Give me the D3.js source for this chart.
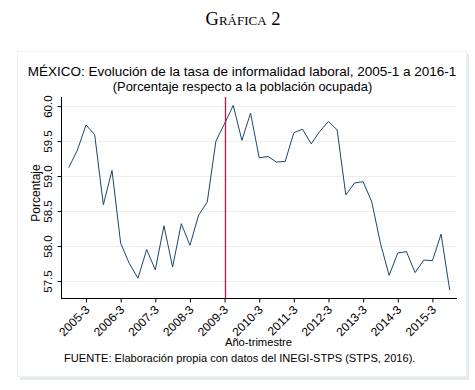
<!DOCTYPE html>
<html>
<head>
<meta charset="utf-8">
<script src="https://cdn.jsdelivr.net/npm/d3@7"></script>
<style>
  html, body { margin: 0; padding: 0; background: #ffffff; }
  svg { display: block; }
  text { font-family: "Liberation Sans", Arial, sans-serif; fill: #000; }
</style>
</head>
<body>
<svg id="chart" width="475" height="390"></svg>
<script>
// ---- Data ----
const quarters = [
  "2005-1","2005-2","2005-3","2005-4",
  "2006-1","2006-2","2006-3","2006-4",
  "2007-1","2007-2","2007-3","2007-4",
  "2008-1","2008-2","2008-3","2008-4",
  "2009-1","2009-2","2009-3","2009-4",
  "2010-1","2010-2","2010-3","2010-4",
  "2011-1","2011-2","2011-3","2011-4",
  "2012-1","2012-2","2012-3","2012-4",
  "2013-1","2013-2","2013-3","2013-4",
  "2014-1","2014-2","2014-3","2014-4",
  "2015-1","2015-2","2015-3","2015-4",
  "2016-1"
];
const informalidad = [
  59.12, 59.37, 59.73, 59.59,
  58.59, 59.08, 58.04, 57.75,
  57.54, 57.95, 57.66, 58.29,
  57.70, 58.32, 58.01, 58.44,
  58.63, 59.50, 59.75, 60.01,
  59.51, 59.90, 59.26, 59.28,
  59.20, 59.21, 59.62, 59.67,
  59.46, 59.64, 59.78, 59.66,
  58.73, 58.90, 58.92, 58.63,
  58.04, 57.58, 57.90, 57.92,
  57.62, 57.80, 57.79, 58.17,
  57.37
];
const xTickLabels = ["2005-3","2006-3","2007-3","2008-3","2009-3","2010-3","2011-3","2012-3","2013-3","2014-3","2015-3"];
const yTickValues = [57.5, 58.0, 58.5, 59.0, 59.5, 60.0];
const markerQuarter = "2009-3";

const headerText = "Gráfica 2";
const titleText = "MÉXICO: Evolución de la tasa de informalidad laboral, 2005-1 a 2016-1";
const subtitleText = "(Porcentaje respecto a la población ocupada)";
const yTitle = "Porcentaje";
const xTitle = "Año-trimestre";
const sourceText = "FUENTE: Elaboración propia con datos del INEGI-STPS (STPS, 2016).";

// ---- Layout ----
const svg = d3.select("#chart");
const plot = { left: 61, right: 457, top: 97, bottom: 298 };

const x = d3.scaleLinear().domain([-0.89, 44.84]).range([plot.left, plot.right]);
const y = d3.scaleLinear().domain([57.257, 60.13]).range([plot.bottom, plot.top]);
const qIndex = q => quarters.indexOf(q);

// header (small caps serif)
svg.append("text")
  .attr("x", 243).attr("y", 25)
  .attr("text-anchor", "middle")
  .style("font-family", "'Liberation Serif', 'DejaVu Serif', serif")
  .style("font-variant", "small-caps")
  .style("font-size", "18.5px")
  .attr("fill", "#111")
  .text(headerText);

// panel shadow + panel
svg.append("rect").attr("x", 20).attr("y", 54).attr("width", 449).attr("height", 326).attr("fill", "#e4ebf0");
svg.append("rect").attr("x", 17.5).attr("y", 51.5).attr("width", 449).attr("height", 325)
  .attr("fill", "#ffffff").attr("stroke", "#eef1f4").attr("stroke-width", 1);

// title
svg.append("text").attr("x", 242).attr("y", 76).attr("text-anchor", "middle")
  .style("font-size", "13.5px").text(titleText);
svg.append("text").attr("x", 242.5).attr("y", 91).attr("text-anchor", "middle")
  .style("font-size", "12.9px").text(subtitleText);

// gridlines
svg.append("g").selectAll("line").data(yTickValues).join("line")
  .attr("x1", plot.left).attr("x2", plot.right)
  .attr("y1", d => Math.round(y(d)) + 0.5).attr("y2", d => Math.round(y(d)) + 0.5)
  .attr("stroke", "#eaeff2").attr("stroke-width", 1);

// y axis
const yAxis = d3.axisLeft(y).tickValues(yTickValues).tickSize(4).tickFormat(d3.format(".1f"));
const gy = svg.append("g").attr("transform", `translate(${plot.left + 0.5},0)`).call(yAxis);
gy.select(".domain").attr("d", `M0,${plot.top}V${plot.bottom}`).attr("stroke", "#000");
gy.selectAll(".tick line").attr("stroke", "#000");
gy.selectAll(".tick text")
  .attr("x", null).attr("dy", null)
  .attr("text-anchor", "middle")
  .attr("transform", "translate(-9.5,0) rotate(-90)")
  .style("font-size", "11.5px")
  .style("font-family", "'Liberation Sans', Arial, sans-serif")
  .attr("fill", "#000");

// x axis
const xAxis = d3.axisBottom(x)
  .tickValues(xTickLabels.map(qIndex))
  .tickSize(4)
  .tickFormat(i => quarters[i]);
const gx = svg.append("g").attr("transform", `translate(0,${plot.bottom + 0.5})`).call(xAxis);
gx.select(".domain").attr("d", `M${plot.left},0H${plot.right}`).attr("stroke", "#000");
gx.selectAll(".tick line").attr("stroke", "#000");
gx.selectAll(".tick text")
  .attr("y", null).attr("dy", null)
  .attr("text-anchor", "end")
  .attr("transform", "translate(4,12) rotate(-45)")
  .style("font-size", "12px")
  .style("font-family", "'Liberation Sans', Arial, sans-serif")
  .attr("fill", "#000");

// vertical marker
const mx = Math.round(x(qIndex(markerQuarter))) + 0.5;
svg.append("line")
  .attr("x1", mx).attr("x2", mx)
  .attr("y1", plot.top).attr("y2", plot.bottom)
  .attr("stroke", "#cc1040").attr("stroke-width", 1.3);

// data line
const line = d3.line().x((d, i) => x(i)).y(d => y(d));
svg.append("path").datum(informalidad)
  .attr("d", line)
  .attr("fill", "none")
  .attr("stroke", "#1a476f")
  .attr("stroke-width", 1);

// axis titles
svg.append("text")
  .attr("transform", "translate(39.5,193) rotate(-90)")
  .attr("text-anchor", "middle")
  .style("font-size", "12px").text(yTitle);
svg.append("text").attr("x", 258.5).attr("y", 346).attr("text-anchor", "middle")
  .style("font-size", "11.2px").text(xTitle);
svg.append("text").attr("x", 64).attr("y", 362)
  .style("font-size", "11.1px").text(sourceText);
</script>
</body>
</html>
